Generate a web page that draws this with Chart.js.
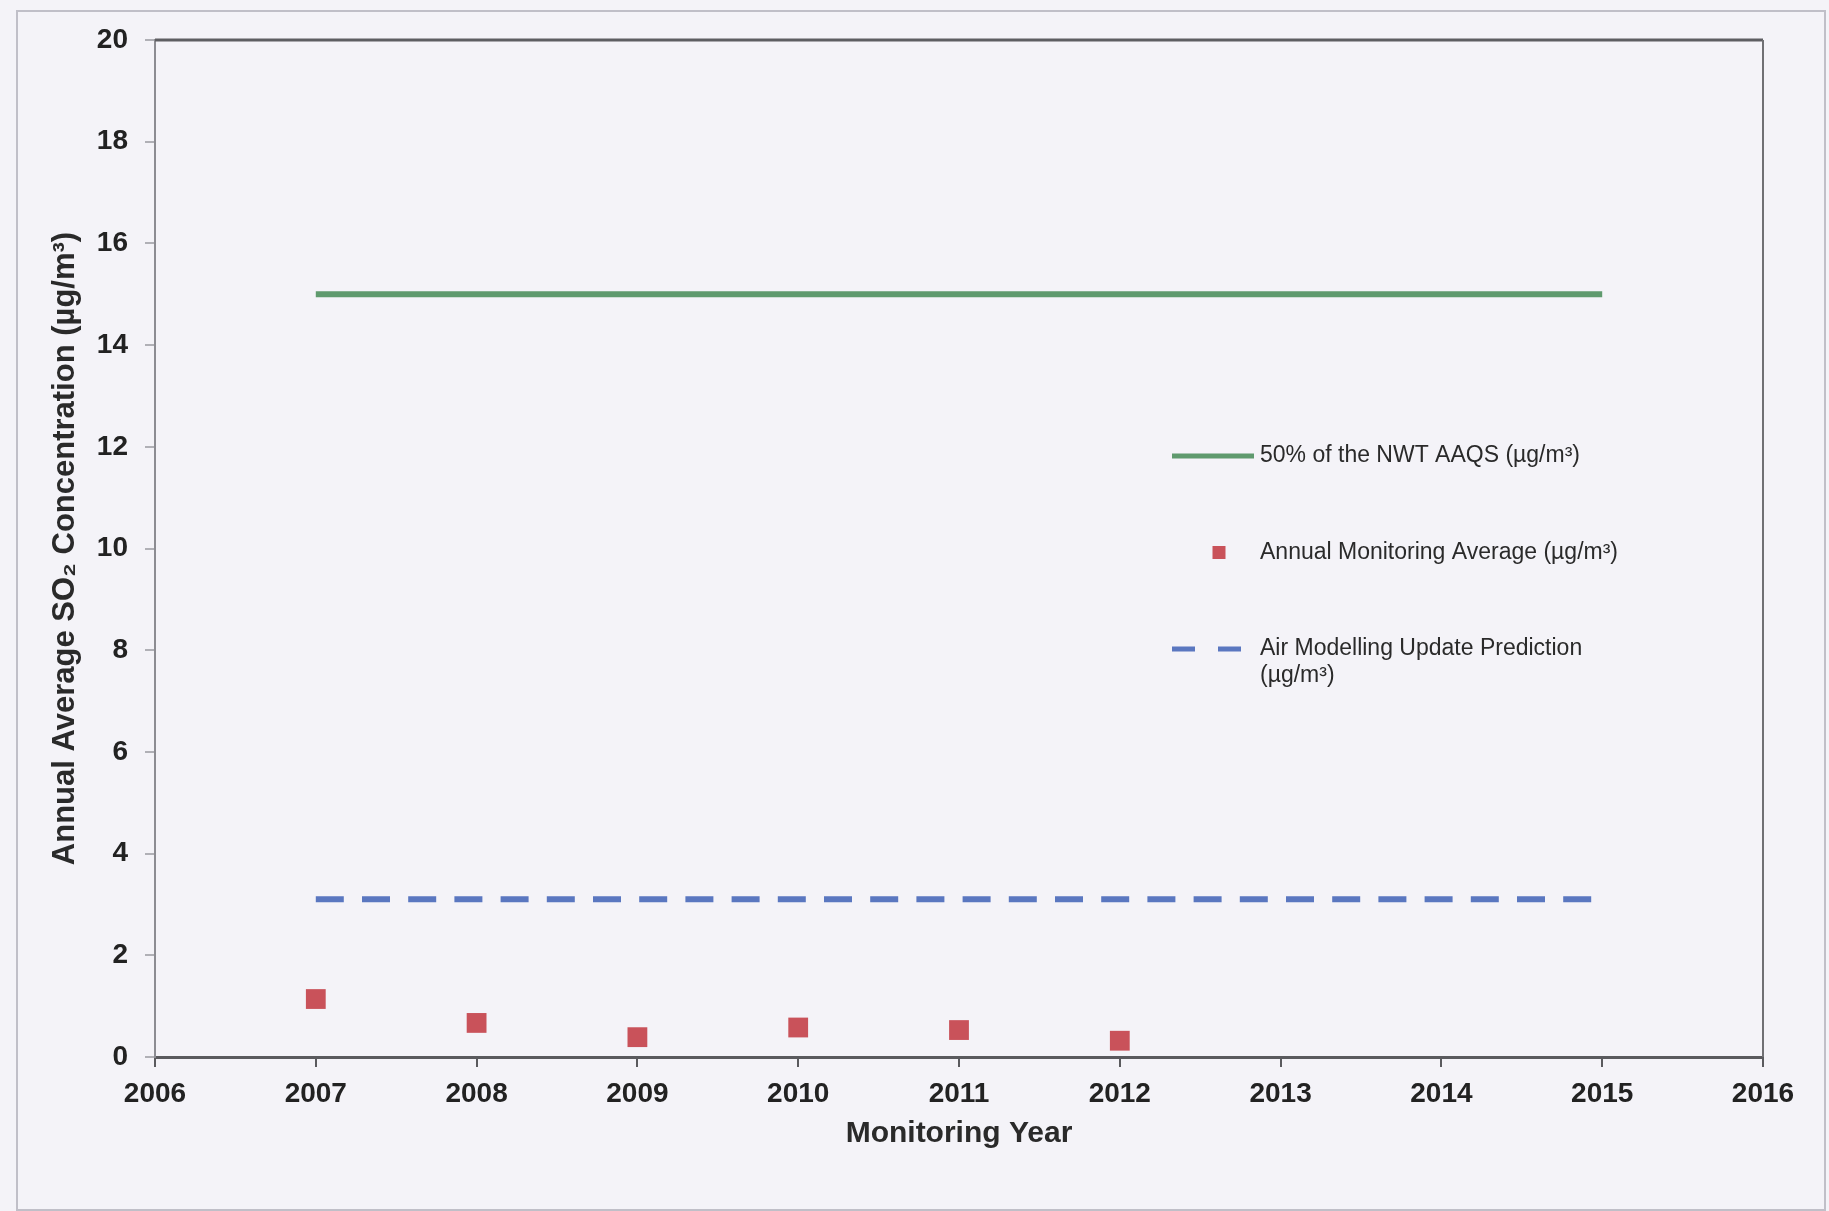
<!DOCTYPE html>
<html>
<head>
<meta charset="utf-8">
<title>Annual Average SO2 Concentration</title>
<script src="https://cdn.jsdelivr.net/npm/chart.js@4/dist/chart.umd.min.js"></script>
<style>
  html, body { margin: 0; padding: 0; background: #f4f3f8; }
  #wrap { position: relative; width: 1829px; height: 1211px; }
  #moldura {
    position: absolute; left: 16px; top: 10px; width: 1806px; height: 1197px;
    border: 2px solid #c0bfc8; pointer-events: none;
  }
  canvas { position: absolute; left: 0; top: 0; }
</style>
</head>
<body>
<div id="wrap">
  <canvas id="graficoSO2" width="1829" height="1211"></canvas>
  <div id="moldura"></div>
</div>
<script>
// ================= DADOS =================
const anosMonitoramento = [2007, 2008, 2009, 2010, 2011, 2012];
const mediasAnuais = [1.14, 0.67, 0.39, 0.58, 0.53, 0.32];

const anosPadrao = [2007, 2015];
const padraoAAQS = [15, 15];

const anosPrevisao = [2007, 2015];
const previsaoModelo = [3.1, 3.1];

const ticksAnos = [2006, 2007, 2008, 2009, 2010, 2011, 2012, 2013, 2014, 2015, 2016];
const ticksConc = [0, 2, 4, 6, 8, 10, 12, 14, 16, 18, 20];

const rotuloPadrao = "50% of the NWT AAQS (µg/m³)";
const rotuloMedia = "Annual Monitoring Average (µg/m³)";
const rotuloPrevisao = "Air Modelling Update Prediction\n(µg/m³)";
// =========================================

const FONTE = "'Liberation Sans', Arial, sans-serif";

function pares(xs, ys) {
  return xs.map((x, i) => ({ x: x, y: ys[i] }));
}

// legenda desenhada dentro da área do gráfico
const legendaInterna = {
  id: "legendaInterna",
  afterDraw(chart, args, opts) {
    const ctx = chart.ctx;
    ctx.save();
    ctx.font = opts.fontSize + "px " + FONTE;
    ctx.textBaseline = "middle";

    chart.data.datasets.forEach((ds, i) => {
      const y = opts.y + i * opts.passo;
      const x0 = opts.x;
      const x1 = opts.x + opts.largura;

      if (ds.showLine === false) {
        const s = opts.quadrado;
        ctx.fillStyle = ds.backgroundColor;
        ctx.fillRect((x0 + x1) / 2 - s / 2 + 6, y - s / 2, s, s);
      } else {
        ctx.strokeStyle = ds.borderColor;
        ctx.lineWidth = opts.espessura;
        ctx.setLineDash(ds.borderDash ? opts.traco : []);
        ctx.beginPath();
        ctx.moveTo(x0, y);
        ctx.lineTo(ds.borderDash ? x1 - 12 : x1, y);
        ctx.stroke();
        ctx.setLineDash([]);
      }

      ctx.fillStyle = "#2a2a2a";
      ds.label.split("\n").forEach((linha, k) => {
        ctx.fillText(linha, opts.textoX, y + k * opts.entreLinhas);
      });
    });
    ctx.restore();
  }
};

// bordas superior e direita da área do gráfico
const bordaArea = {
  id: "bordaArea",
  afterDraw(chart) {
    const a = chart.chartArea;
    const ctx = chart.ctx;
    ctx.save();
    ctx.strokeStyle = "#5e5e62";
    ctx.lineWidth = 3;
    ctx.beginPath();
    ctx.moveTo(a.left, a.top);
    ctx.lineTo(a.right, a.top);
    ctx.stroke();
    ctx.strokeStyle = "#707074";
    ctx.lineWidth = 2;
    ctx.beginPath();
    ctx.moveTo(a.right, a.top);
    ctx.lineTo(a.right, a.bottom);
    ctx.stroke();
    ctx.restore();
  }
};

const ctx = document.getElementById("graficoSO2").getContext("2d");

new Chart(ctx, {
  type: "scatter",
  data: {
    datasets: [
      {
        label: rotuloPadrao,
        data: pares(anosPadrao, padraoAAQS),
        showLine: true,
        borderColor: "#5f9a6e",
        borderWidth: 6,
        pointRadius: 0
      },
      {
        label: rotuloMedia,
        data: pares(anosMonitoramento, mediasAnuais),
        showLine: false,
        backgroundColor: "#c9525a",
        borderColor: "#c9525a",
        pointStyle: "rect",
        pointRadius: 14,
        borderWidth: 0
      },
      {
        label: rotuloPrevisao,
        data: pares(anosPrevisao, previsaoModelo),
        showLine: true,
        borderColor: "#5a77c0",
        borderWidth: 6,
        borderDash: [28, 18.2],
        pointRadius: 0
      }
    ]
  },
  options: {
    responsive: false,
    animation: false,
    layout: { padding: { top: 40, right: 66, bottom: 0, left: 0 } },
    plugins: {
      legend: { display: false },
      tooltip: { enabled: false },
      legendaInterna: {
        x: 1172, y: 456, passo: 96.5, largura: 82,
        textoX: 1260, entreLinhas: 27, fontSize: 23,
        espessura: 5, quadrado: 13, traco: [23, 23]
      }
    },
    scales: {
      x: {
        type: "linear",
        min: 2006,
        max: 2016,
        afterBuildTicks: s => { s.ticks = ticksAnos.map(v => ({ value: v })); },
        afterFit: s => { s.height = 154; },
        border: { color: "#5a5a5e", width: 3 },
        grid: { drawOnChartArea: false, drawTicks: true, tickLength: 10, color: "#5a5a5e", lineWidth: 2 },
        ticks: {
          padding: 10,
          color: "#222",
          font: { family: FONTE, size: 28, weight: "bold" },
          callback: v => String(v)
        },
        title: {
          display: true,
          text: "Monitoring Year",
          color: "#2a2a2a",
          font: { family: FONTE, size: 30, weight: "bold" },
          padding: { top: 0, bottom: 59 }
        }
      },
      y: {
        min: 0,
        max: 20,
        afterBuildTicks: s => { s.ticks = ticksConc.map(v => ({ value: v })); },
        afterFit: s => { s.width = 155; },
        border: { color: "#8c8c92", width: 2 },
        grid: { drawOnChartArea: false, drawTicks: true, tickLength: 10, color: "#b0b0b6", lineWidth: 2 },
        ticks: {
          padding: 17,
          color: "#222",
          font: { family: FONTE, size: 28, weight: "bold" }
        },
        title: {
          display: true,
          text: "Annual Average SO₂ Concentration (µg/m³)",
          color: "#2a2a2a",
          font: { family: FONTE, size: 31, weight: "bold" },
          padding: { top: 47, bottom: 0 }
        }
      }
    }
  },
  plugins: [bordaArea, legendaInterna]
});
</script>
</body>
</html>
